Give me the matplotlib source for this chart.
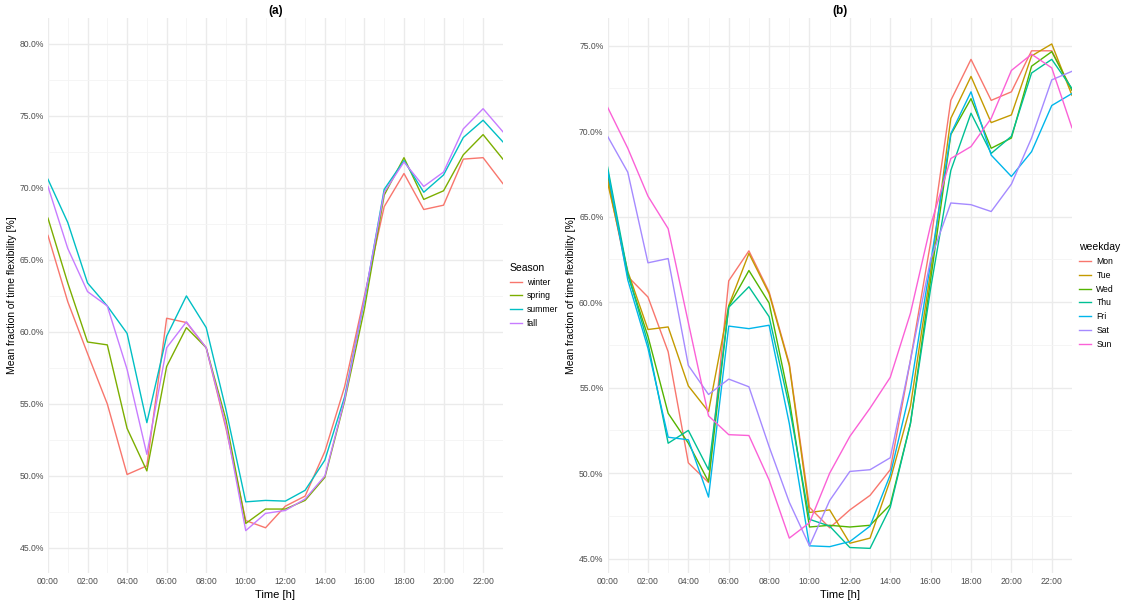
import matplotlib.pyplot as plt
from matplotlib.ticker import MultipleLocator, FuncFormatter

hours = list(range(24))
hour_labels = ["%02d:00" % h for h in range(0, 24, 2)]

# panel (a): mean flexibility by season [%]
seasons = ["winter", "spring", "summer", "fall"]
season_colors = ["#F8766D", "#7CAE00", "#00BFC4", "#C77CFF"]
winter = [66.7, 62.1, 58.5, 55.0, 50.1, 50.7, 60.95, 60.65, 58.9, 53.3, 46.9, 46.4,
          47.9, 48.6, 51.7, 56.2, 62.5, 68.7, 71.0, 68.5, 68.8, 72.0, 72.1, 70.3]
spring = [67.9, 63.4, 59.3, 59.1, 53.3, 50.35, 57.6, 60.3, 58.9, 53.9, 46.7, 47.7,
          47.7, 48.3, 49.9, 55.2, 61.6, 69.5, 72.1, 69.2, 69.8, 72.3, 73.7, 72.0]
summer = [70.6, 67.6, 63.4, 61.8, 59.9, 53.7, 59.7, 62.5, 60.3, 54.6, 48.2, 48.3,
          48.25, 49.0, 51.1, 55.5, 62.2, 69.9, 71.9, 69.7, 70.9, 73.5, 74.7, 73.2]
fall = [70.1, 65.8, 62.8, 61.8, 57.4, 51.5, 58.9, 60.7, 58.9, 53.5, 46.2, 47.4,
        47.6, 48.4, 50.0, 55.3, 62.3, 69.7, 71.8, 70.1, 71.1, 74.1, 75.5, 73.9]
season_values = [winter, spring, summer, fall]

# panel (b): mean flexibility by weekday [%]
weekdays = ["Mon", "Tue", "Wed", "Thu", "Fri", "Sat", "Sun"]
weekday_colors = ["#F8766D", "#C49A00", "#53B400", "#00C094", "#00B6EB", "#A58AFF", "#FB61D7"]
mon = [67.2, 61.5, 60.3, 57.1, 50.6, 49.45, 61.25, 63.0, 60.6, 56.4, 48.0, 46.8,
       47.85, 48.7, 50.2, 56.6, 63.5, 71.8, 74.2, 71.8, 72.3, 74.7, 74.7, 72.4]
tue = [67.0, 61.8, 58.4, 58.55, 55.1, 53.6, 59.8, 62.85, 60.5, 56.3, 47.7, 47.85,
       45.9, 46.2, 49.6, 53.9, 61.8, 70.75, 73.2, 70.5, 70.95, 74.4, 75.1, 72.1]
wed = [67.5, 61.6, 58.0, 53.5, 51.75, 49.5, 59.75, 61.85, 59.95, 54.3, 46.85, 46.95,
       46.85, 46.95, 48.15, 52.9, 61.3, 69.8, 71.9, 69.0, 69.6, 73.8, 74.65, 72.4]
thu = [67.9, 61.7, 57.6, 51.75, 52.5, 50.2, 59.7, 60.9, 59.15, 53.9, 47.3, 46.9,
       45.65, 45.6, 48.0, 52.9, 60.8, 67.7, 71.05, 68.7, 69.7, 73.4, 74.2, 72.5]
fri = [67.7, 61.3, 57.3, 52.1, 51.95, 48.6, 58.6, 58.45, 58.65, 52.9, 45.75, 45.7,
       46.0, 46.9, 49.9, 54.9, 62.3, 69.85, 72.3, 68.6, 67.35, 68.8, 71.5, 72.2]
sat = [69.7, 67.6, 62.3, 62.55, 56.3, 54.6, 55.5, 55.05, 51.55, 48.3, 45.75, 48.4,
       50.1, 50.2, 50.9, 56.6, 62.5, 65.8, 65.7, 65.3, 66.9, 69.6, 73.0, 73.5]
sun = [71.4, 69.0, 66.2, 64.3, 58.8, 53.35, 52.25, 52.2, 49.6, 46.2, 47.1, 50.0,
       52.15, 53.8, 55.6, 59.35, 64.5, 68.4, 69.1, 70.75, 73.55, 74.5, 73.7, 70.2]
weekday_values = [mon, tue, wed, thu, fri, sat, sun]

plt.rcParams['font.family'] = ['Liberation Sans', 'DejaVu Sans']

fig = plt.figure(figsize=(11.26, 6.01), dpi=100)
ax1 = fig.add_axes([0.0426, 0.0466, 0.404, 0.9235])
ax2 = fig.add_axes([0.5396, 0.0466, 0.4124, 0.9235])


def style(ax, ylim, title):
    ax.set_xlim(0, 23)
    ax.set_ylim(*ylim)
    ax.set_xticks(range(0, 24, 2))
    ax.set_xticklabels(hour_labels)
    ax.xaxis.set_minor_locator(MultipleLocator(1))
    ax.yaxis.set_major_locator(MultipleLocator(5))
    ax.yaxis.set_minor_locator(MultipleLocator(2.5))
    ax.yaxis.set_major_formatter(FuncFormatter(lambda v, p: "%.1f%%" % v))
    ax.grid(which="major", color="#EBEBEB", lw=1.0)
    ax.grid(which="minor", color="#F4F4F4", lw=0.6)
    ax.set_axisbelow(True)
    for s in ax.spines.values():
        s.set_visible(False)
    ax.tick_params(which="both", length=0, labelsize=6.2, labelcolor="#4D4D4D", pad=3)
    ax.set_xlabel("Time [h]", fontsize=8, labelpad=3)
    ax.set_ylabel("Mean fraction of time flexibility [%]", fontsize=7.5, labelpad=2)
    ax.set_title(title, fontsize=8.5, fontweight="bold", pad=3)


for name, vals, col in zip(seasons, season_values, season_colors):
    ax1.plot(hours, vals, color=col, lw=1.0, label=name)
for name, vals, col in zip(weekdays, weekday_values, weekday_colors):
    ax2.plot(hours, vals, color=col, lw=1.0, label=name)

style(ax1, (43.26, 81.8), "(a)")
style(ax2, (44.16, 76.62), "(b)")

for ax, ttl in [(ax1, "Season"), (ax2, "weekday")]:
    leg = ax.legend(title=ttl, loc="center left", bbox_to_anchor=(1.01, 0.5),
                    frameon=False, fontsize=6.2, title_fontsize=7.5,
                    handlelength=1.4, handletextpad=0.6, labelspacing=0.55,
                    borderaxespad=0.2, borderpad=0.1)
    leg._legend_box.align = "left"

fig.savefig("out.png", dpi=100)
